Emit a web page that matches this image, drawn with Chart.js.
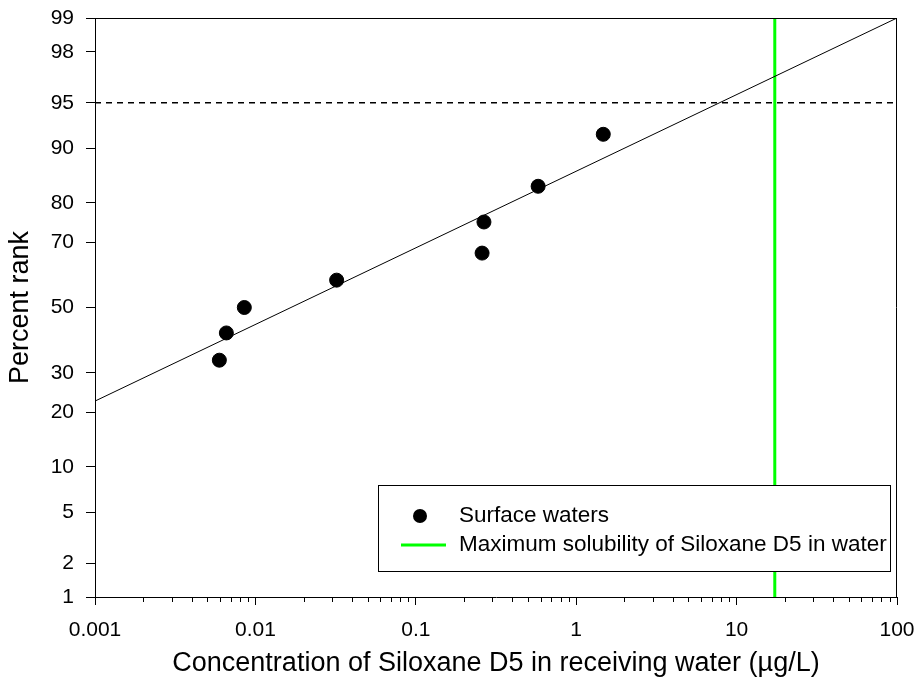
<!DOCTYPE html>
<html>
<head>
<meta charset="utf-8">
<script src="https://cdn.jsdelivr.net/npm/chart.js@4.4.1/dist/chart.umd.min.js"></script>
<style>
  html, body { margin: 0; padding: 0; background: #fff; }
  #wrap { width: 918px; height: 680px; }
</style>
</head>
<body>
<div id="wrap"><canvas id="grafico" width="918" height="680"></canvas></div>
<script>
// Data
const concentrations = [0.00596, 0.00659, 0.00853, 0.0321, 0.259, 0.266, 0.579, 1.475];
const percentRanks = [33.6, 41.9, 50.0, 58.7, 66.9, 75.4, 83.5, 91.8];
const fitX = [0.001, 100];
const fitY = [22.6, 99];
const solubilityX = 17.3;
const threshold = 95;
const xTicks = [0.001, 0.01, 0.1, 1, 10, 100];
const yTicks = [1, 2, 5, 10, 20, 30, 50, 70, 80, 90, 95, 98, 99];

// inverse of the standard normal CDF (Acklam)
function probit(p) {
  const a = [-39.69683028665376, 220.9460984245205, -275.9285104469687, 138.3577518672690, -30.66479806614716, 2.506628277459239];
  const b = [-54.47609879822406, 161.5858368580409, -155.6989798598866, 66.80131188771972, -13.28068155288572];
  const c = [-0.007784894002430293, -0.3223964580411365, -2.400758277161838, -2.549732539343734, 4.374664141464968, 2.938163982698783];
  const d = [0.007784695709041462, 0.3224671290700398, 2.445134137142996, 3.754408661907416];
  const pl = 0.02425;
  let q, r;
  if (p < pl) {
    q = Math.sqrt(-2 * Math.log(p));
    return (((((c[0]*q+c[1])*q+c[2])*q+c[3])*q+c[4])*q+c[5]) / ((((d[0]*q+d[1])*q+d[2])*q+d[3])*q+1);
  }
  if (p > 1 - pl) {
    q = Math.sqrt(-2 * Math.log(1 - p));
    return -(((((c[0]*q+c[1])*q+c[2])*q+c[3])*q+c[4])*q+c[5]) / ((((d[0]*q+d[1])*q+d[2])*q+d[3])*q+1);
  }
  q = p - 0.5; r = q * q;
  return (((((a[0]*r+a[1])*r+a[2])*r+a[3])*r+a[4])*r+a[5])*q / (((((b[0]*r+b[1])*r+b[2])*r+b[3])*r+b[4])*r+1);
}

// probability (percent rank) scale
class ProbitScale extends Chart.Scale {
  determineDataLimits() {
    this.min = this.options.min;
    this.max = this.options.max;
  }
  buildTicks() {
    return yTicks.map(v => ({ value: v }));
  }
  getLabelForValue(v) { return String(v); }
  configure() {
    super.configure();
    this._zMin = probit(this.min / 100);
    this._zRange = probit(this.max / 100) - this._zMin;
  }
  getPixelForValue(v) {
    if (v === null || v === undefined || isNaN(v)) return NaN;
    return this.getPixelForDecimal((probit(v / 100) - this._zMin) / this._zRange);
  }
  getValueForPixel(px) {
    return this.getDecimalForPixel(px);
  }
}
ProbitScale.id = 'probit';
ProbitScale.defaults = {};
Chart.register(ProbitScale);

// frame on top/right and minor ticks on the log axis
const framePlugin = {
  id: 'frame',
  afterDraw(chart) {
    const { ctx, chartArea: a } = chart;
    const xs = chart.scales.x;
    ctx.save();
    ctx.strokeStyle = '#000';
    ctx.lineWidth = 1;
    ctx.beginPath();
    ctx.moveTo(a.left, a.top + 0.5);
    ctx.lineTo(a.right, a.top + 0.5);
    ctx.moveTo(a.right - 0.5, a.top);
    ctx.lineTo(a.right - 0.5, a.bottom);
    for (let i = 0; i < xTicks.length - 1; i++) {
      for (let k = 2; k <= 9; k++) {
        const px = Math.round(xs.getPixelForValue(xTicks[i] * k)) + 0.5;
        ctx.moveTo(px, a.bottom);
        ctx.lineTo(px, a.bottom + 5);
      }
    }
    ctx.stroke();
    ctx.restore();
  }
};

// boxed legend inside the plot
const legendPlugin = {
  id: 'boxLegend',
  afterDraw(chart) {
    const ctx = chart.ctx;
    ctx.save();
    ctx.fillStyle = '#fff';
    ctx.fillRect(378, 485, 512, 86);
    ctx.strokeStyle = '#000';
    ctx.lineWidth = 1;
    ctx.strokeRect(378.5, 485.5, 512, 86);
    ctx.fillStyle = '#000';
    ctx.beginPath();
    ctx.arc(420, 516, 7, 0, Math.PI * 2);
    ctx.fill();
    ctx.strokeStyle = '#00ff00';
    ctx.lineWidth = 3;
    ctx.beginPath();
    ctx.moveTo(401, 545);
    ctx.lineTo(446, 545);
    ctx.stroke();
    ctx.fillStyle = '#000';
    ctx.font = '22.5px "Liberation Sans", Arial, sans-serif';
    ctx.textBaseline = 'middle';
    ctx.fillText('Surface waters', 459, 516);
    ctx.fillText('Maximum solubility of Siloxane D5 in water', 459, 545);
    ctx.restore();
  }
};

const ctx = document.getElementById('grafico').getContext('2d');
const chart = new Chart(ctx, {
  type: 'scatter',
  data: {
    datasets: [
      {
        label: 'Maximum solubility of Siloxane D5 in water',
        data: [{ x: solubilityX, y: 1 }, { x: solubilityX, y: 99 }],
        showLine: true,
        borderColor: '#00ff00',
        borderWidth: 3,
        pointRadius: 0,
        order: 3
      },
      {
        label: '95th percentile',
        data: fitX.map(x => ({ x: x, y: threshold })),
        showLine: true,
        borderColor: '#000',
        borderWidth: 1.5,
        borderDash: [6, 5],
        pointRadius: 0,
        order: 2
      },
      {
        label: 'Fit',
        data: fitX.map((x, i) => ({ x: x, y: fitY[i] })),
        showLine: true,
        borderColor: '#000',
        borderWidth: 1,
        pointRadius: 0,
        order: 1
      },
      {
        label: 'Surface waters',
        data: concentrations.map((x, i) => ({ x: x, y: percentRanks[i] })),
        backgroundColor: '#000',
        borderColor: '#000',
        pointRadius: 7,
        pointHoverRadius: 7,
        order: 0
      }
    ]
  },
  options: {
    responsive: false,
    animation: false,
    layout: { padding: { top: 18, right: 21, left: 0, bottom: 0 } },
    plugins: {
      legend: { display: false },
      tooltip: { enabled: false }
    },
    scales: {
      x: {
        type: 'logarithmic',
        min: 0.001,
        max: 100,
        afterBuildTicks: s => { s.ticks = xTicks.map(v => ({ value: v, major: true })); },
        afterFit: s => { s.height = 83; s.paddingLeft = 0; s.paddingRight = 0; },
        ticks: {
          callback: v => String(v),
          color: '#000',
          padding: 13,
          maxRotation: 0,
          autoSkip: false,
          font: { family: '"Liberation Sans", Arial, sans-serif', size: 21 }
        },
        grid: { drawOnChartArea: false, tickLength: 8, color: '#000', tickColor: '#000' },
        border: { display: true, color: '#000', width: 1 },
        title: {
          display: true,
          text: 'Concentration of Siloxane D5 in receiving water (µg/L)',
          color: '#000',
          padding: { top: 0, bottom: 0 },
          font: { family: '"Liberation Sans", Arial, sans-serif', size: 27 }
        }
      },
      y: {
        type: 'probit',
        min: 1,
        max: 99,
        afterFit: s => { s.width = 95; s.paddingTop = 0; s.paddingBottom = 0; },
        ticks: {
          color: '#000',
          padding: 12,
          autoSkip: false,
          font: { family: '"Liberation Sans", Arial, sans-serif', size: 21 }
        },
        grid: { drawOnChartArea: false, tickLength: 9, color: '#000', tickColor: '#000' },
        border: { display: true, color: '#000', width: 1 },
        title: {
          display: true,
          text: 'Percent rank',
          color: '#000',
          padding: { top: 4, bottom: 0 },
          font: { family: '"Liberation Sans", Arial, sans-serif', size: 27 }
        }
      }
    }
  },
  plugins: [framePlugin, legendPlugin]
});
</script>
</body>
</html>
